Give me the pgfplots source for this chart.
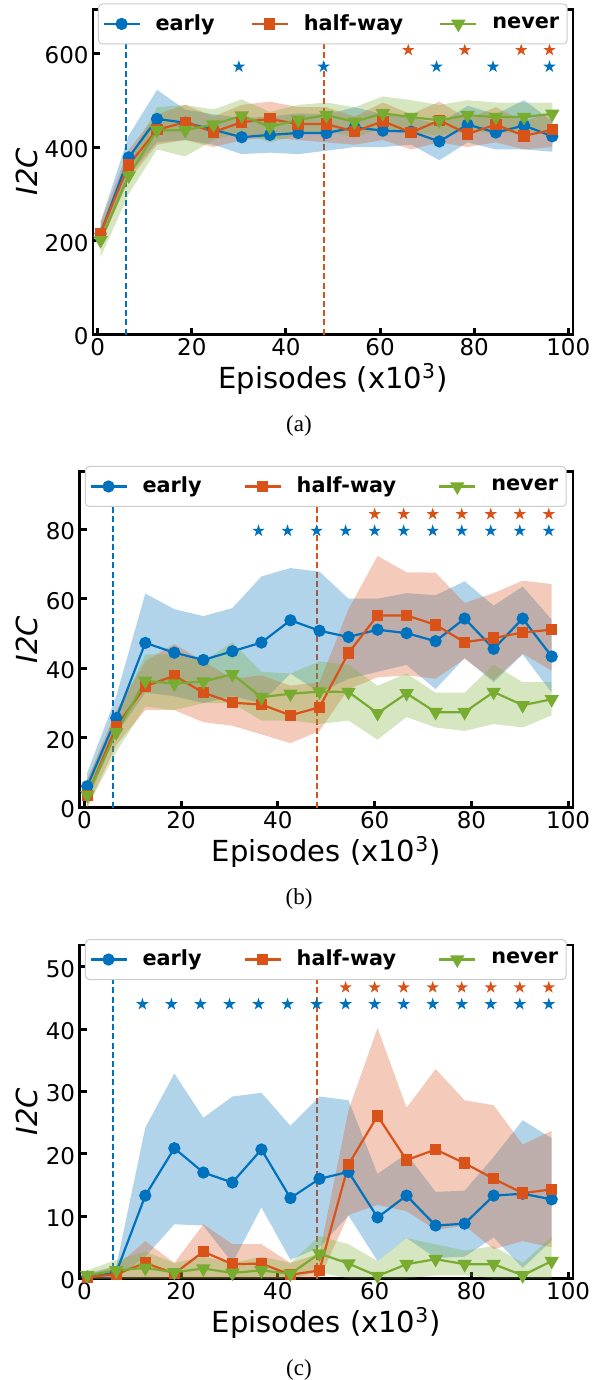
\documentclass[border=0pt]{standalone}
\usepackage{fontspec}
\setmainfont{DejaVu Sans}
\newfontfamily\capfont{Liberation Serif}
\usepackage{pgfplots}
\pgfplotsset{compat=1.18}
\usepackage{pgfplotstable}

\definecolor{cblue}{RGB}{0,114,189}
\definecolor{corange}{RGB}{217,83,25}
\definecolor{cgreen}{RGB}{119,172,48}

\pgfdeclareplotmark{fstar}{%
  \pgfpathmoveto{\pgfpointpolar{90}{\pgfplotmarksize}}%
  \pgfpathlineto{\pgfpointpolar{126}{0.382\pgfplotmarksize}}%
  \pgfpathlineto{\pgfpointpolar{162}{\pgfplotmarksize}}%
  \pgfpathlineto{\pgfpointpolar{198}{0.382\pgfplotmarksize}}%
  \pgfpathlineto{\pgfpointpolar{234}{\pgfplotmarksize}}%
  \pgfpathlineto{\pgfpointpolar{270}{0.382\pgfplotmarksize}}%
  \pgfpathlineto{\pgfpointpolar{306}{\pgfplotmarksize}}%
  \pgfpathlineto{\pgfpointpolar{342}{0.382\pgfplotmarksize}}%
  \pgfpathlineto{\pgfpointpolar{18}{\pgfplotmarksize}}%
  \pgfpathlineto{\pgfpointpolar{54}{0.382\pgfplotmarksize}}%
  \pgfpathclose
  \pgfusepathqfill
}

% ---------- means ----------
\pgfplotstableread{
x     em   hm   nm
0.6   215  216  201
6.6   378  362  339
12.6  460  437  436
18.6  452  453  436
24.6  437  432  448
30.6  421  453  467
36.6  426  460  443
42.6  430  449  458
48.6  430  449  468
54.6  442  433  454
60.6  435  455  472
66.6  433  431  464
72.6  412  457  457
78.6  448  428  468
84.6  431  448  464
90.6  446  424  464
96.6  423  437  471
}\tA
\pgfplotstableread{
x     em   hm   nm
0.6   6.1  3.4  3.6
6.6   25.7 23.3 21.6
12.6  47.3 34.8 36.4
18.6  44.5 37.9 35.6
24.6  42.4 33.0 36.2
30.6  44.9 30.1 38.3
36.6  47.4 29.6 31.7
42.6  53.8 26.5 32.7
48.6  50.8 28.8 33.3
54.6  49.0 44.4 33.2
60.6  51.1 55.2 27.1
66.6  50.1 55.2 32.8
72.6  47.8 52.5 27.4
78.6  54.3 47.5 27.4
84.6  45.6 48.7 33.2
90.6  54.3 50.3 29.4
96.6  43.4 51.1 31.1
}\tB
\pgfplotstableread{
x     em   hm   nm
0.6   0.3  0.2  0.5
6.6   1.0  0.7  1.3
12.6  13.3 2.5  1.7
18.6  20.9 0.8  1.0
24.6  17.0 4.3  1.6
30.6  15.4 2.3  0.9
36.6  20.7 2.4  1.3
42.6  12.9 0.6  0.75
48.6  16.0 1.3  4.0
54.6  17.1 18.3 2.4
60.6  9.8  26.1 0.4
66.6  13.3 19.0 2.3
72.6  8.5  20.7 3.1
78.6  8.8  18.5 2.3
84.6  13.3 16.0 2.3
90.6  13.6 13.7 0.5
96.6  12.7 14.3 2.8
}\tC

% ---------- bands: lower edge forward, upper edge backward ----------
\pgfplotstableread{
x     e    h    n
0.6   190  195  165
6.6   340  330  300
12.6  410  405  395
18.6  415  415  380
24.6  405  400  415
30.6  385  415  430
36.6  388  420  410
42.6  385  415  425
48.6  392  410  435
54.6  400  405  420
60.6  400  415  440
66.6  405  395  430
72.6  372  410  425
78.6  410  400  435
84.6  395  410  430
90.6  395  395  430
96.6  390  400  440
96.6  455  475  495
90.6  500  455  495
84.6  470  485  495
78.6  488  460  500
72.6  450  497  490
66.6  462  470  500
60.6  470  495  508
54.6  485  465  485
48.6  470  485  495
42.6  472  485  490
36.6  465  497  475
30.6  462  490  502
24.6  470  465  480
18.6  480  490  490
12.6  522  470  485
6.6   425  395  375
0.6   240  240  230
}\bA
\pgfplotstableread{
x     e    h    n
0.6   2    0    0
6.6   21   18   16
12.6  33   28   29
18.6  32   28   28
24.6  30   24.5 30
30.6  32   23.5 30
36.6  30   21   25
42.6  38.5 18.5 25
48.6  33   22   24
54.6  37   34   25
60.6  39   37.4 19.5
66.6  41   38   26
72.6  34   37   23
78.6  43   42.7 22
84.6  36   36.6 24
90.6  44   44.2 23
96.6  33   39.3 26.5
96.6  54   64.2 36
90.6  63.5 65.2 36
84.6  58   61.6 41
78.6  65   58.8 33
72.6  61   67.5 33
66.6  61.6 67.6 38.5
60.6  60   72.3 35
54.6  60   57   41
48.6  67.8 36   42
42.6  68.8 35   38.5
36.6  66.4 38   39
30.6  57.3 37   47.5
24.6  55   42   42
18.6  57   47   44
12.6  61.5 42   44
6.6   32   28   26
0.6   10   8    8
}\bB
\pgfplotstableread{
x     e    h    n
0.6   0    0    0
6.6   0    0    0
12.6  3.5  0    0
18.6  8.7  0    0
24.6  8.5  0    0
30.6  2.5  0    0
36.6  11.4 0    0
42.6  3.0  0    0
48.6  5.0  0    1.0
54.6  10.1 10.2 0
60.6  2.8  11.8 0
66.6  6.5  10.8 0
72.6  3.3  7.8  0.5
78.6  3.5  8.5  0.5
84.6  6.6  4.7  0
90.6  1.7  6.0  0
96.6  6.1  5.0  0
96.6  22.5 23.7 6.7
90.6  25.4 21.5 2.5
84.6  19.5 27.8 5.2
78.6  14.1 28.6 4.5
72.6  13.9 33.6 5.5
66.6  20.0 27.4 6.5
60.6  16.8 40.2 2.8
54.6  28.6 27.0 5.5
48.6  29.2 4.0  6.8
42.6  24.5 2.5  2.5
36.6  29.8 5.5  3.5
30.6  29.2 5.5  2.5
24.6  25.8 8.7  3.5
18.6  32.9 2.5  2.5
12.6  24.2 6.0  4.3
6.6   2.0  2.0  3.0
0.6   0.8  0.6  1.3
}\bC

\pgfplotsset{
  panel/.style={
    scale only axis, anchor=south west,
    xmin=-1, xmax=101, ymin=0,
    xtick={0,20,40,60,80,100},
    tickpos=left, tick align=inside,
    major tick length=3.5pt,
    tick style={black, line width=1.5pt},
    axis line style={line width=1.4pt},
    /pgf/number format/assume math mode=true,
    tick label style={font=\fontsize{11.5}{13}\selectfont},
    xticklabel style={inner sep=0pt, yshift=-1.8pt},
    yticklabel style={inner sep=0pt, xshift=-2pt, yshift=-1pt},
    xlabel={Episodes (x10\textsuperscript{3})},
    ylabel={\itshape I2C},
    label style={font=\fontsize{14.5}{16}\selectfont},
    xlabel style={at={(axis description cs:0.5,0)}, anchor=base, yshift=-27pt},
    legend columns=3,
    legend style={draw=black!20, line width=0.5pt, fill=white, rounded corners=2pt,
      anchor=north west, inner xsep=2pt, inner ysep=3.3pt,
      font=\bfseries\fontsize{10.4}{12}\selectfont},
    legend image code/.code={%
      \path[draw=none, fill=none] (0pt,-1pt) rectangle (24pt,1pt);
      \draw[mark repeat=2,mark phase=2,##1] plot coordinates {(0pt,0pt) (9pt,0pt) (18pt,0pt)};},
  },
  early/.style={cblue, line width=1.1pt, mark=*, mark size=2.5pt, mark options={solid}},
  half/.style={corange, line width=1.1pt, mark=square*, mark size=2.3pt, mark options={solid}},
  never/.style={cgreen, line width=1.1pt, mark=triangle*, mark size=3.1pt, mark options={solid, rotate=180}},
  vdash/.style={line width=1pt, dash pattern=on 3pt off 1.6pt, forget plot},
  stars/.style={only marks, mark=fstar, mark size=3.25pt, forget plot},
  band/.style={draw=none, fill opacity=0.3, forget plot},
}

\newcommand{\series}[2]{%
  \addplot[band, fill=cblue] table[x=x,y=e]{#2};
  \addplot[band, fill=corange] table[x=x,y=h]{#2};
  \addplot[band, fill=cgreen] table[x=x,y=n]{#2};
  \addplot[early] table[x=x,y=em]{#1}; \addlegendentry{early}
  \addplot[half] table[x=x,y=hm]{#1}; \addlegendentry{half-way}
  \addplot[never] table[x=x,y=nm]{#1}; \addlegendentry{never}
}

\begin{document}
\begin{tikzpicture}
\useasboundingbox (0,0) rectangle (301pt,-690pt);

% (a)
\begin{axis}[panel, at={(46.5pt,-167.25pt)}, width=240pt, height=162.6pt,
  ymax=694, ytick={0,200,400,600},
  ylabel style={at={(axis description cs:-0.1146,0.5)}, anchor=base},
  legend style={at={(axis description cs:0.0104,1.018)},
    /tikz/every even column/.append style={column sep=16pt}}]
\addplot[cblue, vdash] coordinates {(6,0) (6,694)};
\addplot[corange, vdash] coordinates {(48,0) (48,694)};
\series{\tA}{\bA}
\addplot[stars, cblue] coordinates {(30,571.4) (48,571.4) (72,571.4) (84,571.4) (96,571.4)};
\addplot[stars, corange] coordinates {(66,607) (78,607) (90,607) (96,607)};
\end{axis}

% (b)
\begin{axis}[panel, at={(39.75pt,-403.75pt)}, width=246.75pt, height=167.9pt,
  ymax=96.5, ytick={0,20,40,60,80},
  ylabel style={at={(axis description cs:-0.0841,0.5)}, anchor=base},
  legend style={at={(axis description cs:0.011,1.017)},
    /tikz/every even column/.append style={column sep=19pt}}]
\addplot[cblue, vdash] coordinates {(6,0) (6,96.5)};
\addplot[corange, vdash] coordinates {(48,0) (48,96.5)};
\series{\tB}{\bB}
\addplot[stars, cblue] coordinates {(36,79.5) (42,79.5) (48,79.5) (54,79.5) (60,79.5) (66,79.5) (72,79.5) (78,79.5) (84,79.5) (90,79.5) (96,79.5)};
\addplot[stars, corange] coordinates {(60,84.3) (66,84.3) (72,84.3) (78,84.3) (84,84.3) (90,84.3) (96,84.3)};
\end{axis}

% (c)
\begin{axis}[panel, at={(39.75pt,-639.25pt)}, width=246.75pt, height=166.75pt,
  ymax=53.5, ytick={0,10,20,30,40,50},
  ylabel style={at={(axis description cs:-0.0841,0.5)}, anchor=base},
  legend style={at={(axis description cs:0.011,1.018)},
    /tikz/every even column/.append style={column sep=19pt}}]
\addplot[cblue, vdash] coordinates {(6,0) (6,53.5)};
\addplot[corange, vdash] coordinates {(48,0) (48,53.5)};
\series{\tC}{\bC}
\addplot[stars, cblue] coordinates {(12,44) (18,44) (24,44) (30,44) (36,44) (42,44) (48,44) (54,44) (60,44) (66,44) (72,44) (78,44) (84,44) (90,44) (96,44)};
\addplot[stars, corange] coordinates {(54,46.7) (60,46.7) (66,46.7) (72,46.7) (78,46.7) (84,46.7) (90,46.7) (96,46.7)};
\end{axis}

\node[anchor=base, font=\capfont\fontsize{11.5}{13}\selectfont] at (149.5pt,-215.75pt) {(a)};
\node[anchor=base, font=\capfont\fontsize{11.5}{13}\selectfont] at (149.5pt,-452.25pt) {(b)};
\node[anchor=base, font=\capfont\fontsize{11.5}{13}\selectfont] at (149.5pt,-687.5pt) {(c)};
\end{tikzpicture}
\end{document}
